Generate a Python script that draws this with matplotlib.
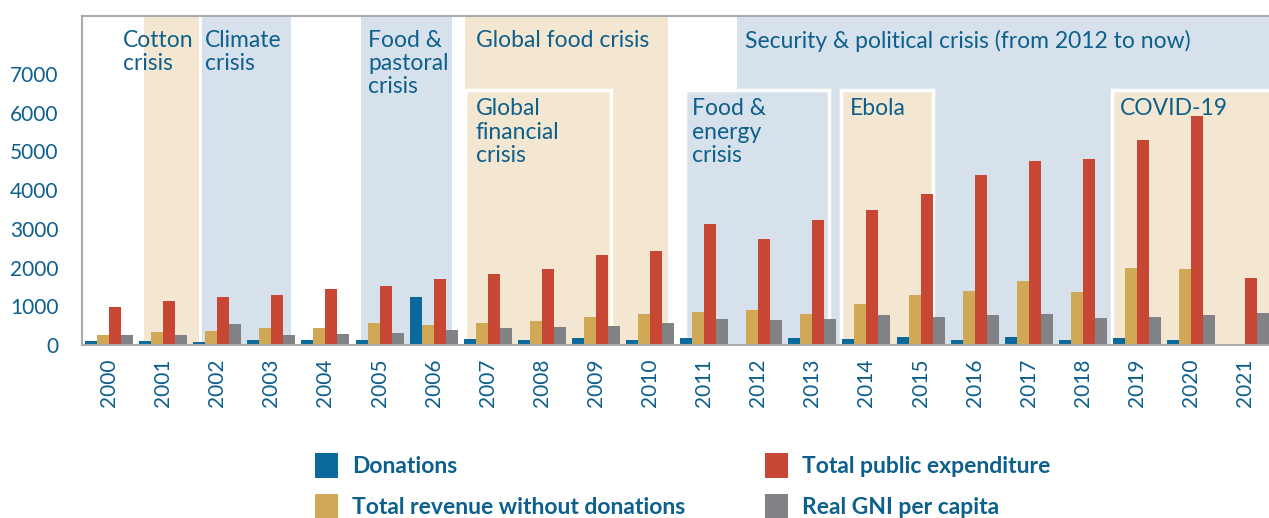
import matplotlib.pyplot as plt
from matplotlib.patches import Rectangle, Patch
import numpy as np

plt.rcParams['font.family'] = ['Lato', 'DejaVu Sans']

years = [str(y) for y in range(2000, 2022)]
donations = [100, 100, 80, 130, 130, 130, 1240, 155, 130, 180, 130,
             180, 0, 180, 155, 205, 130, 205, 130, 180, 130, 0]
revenue = [260, 335, 360, 440, 440, 570, 515, 570, 620, 725, 800,
           850, 905, 800, 1060, 1290, 1395, 1655, 1370, 1990, 1965, 0]
expenditure = [980, 1135, 1240, 1290, 1445, 1525, 1705, 1835, 1965, 2325, 2430,
               3130, 2740, 3230, 3490, 3900, 4390, 4755, 4805, 5300, 5915, 1730]
gni = [260, 260, 540, 260, 285, 310, 390, 440, 465, 490, 570,
       670, 645, 670, 775, 725, 775, 800, 700, 725, 775, 825]

series_names = ["Donations", "Total revenue without donations",
                "Total public expenditure", "Real GNI per capita"]

# crisis bands: label, start, end (in year-slot units)
bands = [
    ("Cotton\ncrisis", 0.65, 1.66),
    ("Climate\ncrisis", 1.72, 3.36),
    ("Food &\npastoral\ncrisis", 4.66, 6.34),
    ("Global food crisis", 6.58, 10.33),
    ("Security & political crisis (from 2012 to now)", 11.61, 22.0),
]
# boxed crises drawn inside the bands
boxes = [
    ("Global\nfinancial\ncrisis", 6.58, 9.28),
    ("Food &\nenergy\ncrisis", 10.65, 13.31),
    ("Ebola", 13.53, 15.23),
    ("COVID-19", 18.54, 22.0),
]

BEIGE = "#f3e7d2"
LIGHTBLUE = "#d7e1ec"
TXT = "#0d5f8c"
colors = ["#0a6a9c", "#d1a855", "#c84634", "#818285"]
band_colors = [BEIGE, LIGHTBLUE, LIGHTBLUE, BEIGE, LIGHTBLUE]
box_colors = [BEIGE, LIGHTBLUE, BEIGE, BEIGE]

fig = plt.figure(figsize=(12.69, 5.18), dpi=100)
ax = fig.add_axes([0.0646, 0.334, 0.9354, 0.635])
ax.set_xlim(-0.5, 21.44)
ax.set_ylim(0, 8500)

top = 8500
box_top = 6600
text_top = 8140
for (label, x0, x1), c in zip(bands, band_colors):
    ax.add_patch(Rectangle((x0, 0), x1 - x0, top, facecolor=c, edgecolor="none", zorder=0))
text_x = [0.26, 1.77, 4.79, 6.78, 11.76]
for (label, x0, x1), tx in zip(bands, text_x):
    ax.text(tx, text_top, label, ha="left", va="top", fontsize=16.5, color=TXT,
            linespacing=1.13, zorder=3)

box_text_x = [6.78, 10.78, 13.70, 18.69]
for (label, x0, x1), c, tx in zip(boxes, box_colors, box_text_x):
    ax.add_patch(Rectangle((x0, -50), x1 - x0, box_top + 50, facecolor=c, edgecolor="white",
                           linewidth=2.5, zorder=1))
    ax.text(tx, box_top - 230, label, ha="left", va="top", fontsize=16.5, color=TXT,
            linespacing=1.13, zorder=3)

x = np.arange(len(years))
w = 0.222
for i, (vals, c) in enumerate(zip([donations, revenue, expenditure, gni], colors)):
    ax.bar(x + (i - 1.5) * w, vals, width=w, color=c, zorder=2, label=series_names[i])

ax.set_xticks(x)
ax.set_xticklabels(years, rotation=90, va="top")
ax.set_yticks(range(0, 8000, 1000))
ax.tick_params(length=0, labelsize=15, labelcolor=TXT)
ax.tick_params(axis="y", pad=17)
ax.tick_params(axis="x", pad=10)

for s in ["left", "top", "bottom"]:
    ax.spines[s].set_color("#a9abae")
    ax.spines[s].set_linewidth(1.5)
ax.spines["right"].set_visible(False)

handles = [Patch(facecolor=c, edgecolor="none") for c in colors]
leg = fig.legend(handles, series_names, ncol=2, loc="center", bbox_to_anchor=(0.538, 0.062),
                 frameon=False, prop={"size": 16.5, "weight": "bold"},
                 handlelength=1.0, handleheight=1.25, handletextpad=0.6,
                 columnspacing=3.5, labelspacing=0.72)
for t in leg.get_texts():
    t.set_color(TXT)

fig.savefig("out.png", dpi=100)
